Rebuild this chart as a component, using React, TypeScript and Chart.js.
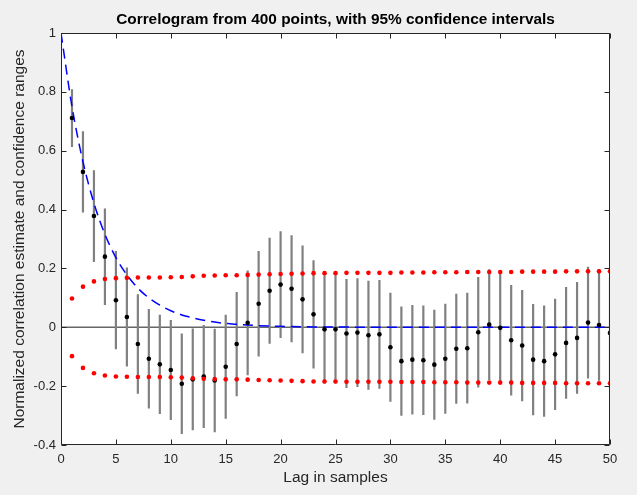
import React, { useEffect, useRef } from "react";
import { Chart, registerables } from "chart.js";

Chart.register(...registerables);

const FONT = '"Liberation Sans", Arial, Helvetica, sans-serif';

const TITLE = "Correlogram from 400 points, with 95% confidence intervals";
const X_LABEL = "Lag in samples";
const Y_LABEL = "Normalized correlation estimate and confidence ranges";

const lags = [
  1, 2, 3, 4, 5, 6, 7, 8, 9, 10, 11, 12, 13, 14, 15, 16, 17, 18, 19, 20, 21, 22, 23, 24, 25,
  26, 27, 28, 29, 30, 31, 32, 33, 34, 35, 36, 37, 38, 39, 40, 41, 42, 43, 44, 45, 46, 47, 48, 49, 50,
];

const estimates = [
  0.711, 0.528, 0.378, 0.24, 0.092, 0.035, -0.057, -0.107, -0.126, -0.145, -0.192, -0.177, -0.167,
  -0.181, -0.134, -0.057, 0.015, 0.08, 0.124, 0.145, 0.131, 0.095, 0.044, -0.007, -0.007, -0.021,
  -0.018, -0.027, -0.024, -0.068, -0.115, -0.11, -0.112, -0.127, -0.107, -0.073, -0.071, -0.017,
  0.009, -0.002, -0.044, -0.062, -0.11, -0.115, -0.092, -0.053, -0.036, 0.016, 0.008, -0.019,
];

const bounds = [
  0.098, 0.138, 0.156, 0.164, 0.167, 0.168, 0.169, 0.169, 0.169, 0.17, 0.171, 0.173, 0.175, 0.176,
  0.177, 0.177, 0.178, 0.179, 0.18, 0.181, 0.182, 0.183, 0.184, 0.184, 0.184, 0.185, 0.185, 0.185,
  0.185, 0.185, 0.186, 0.186, 0.186, 0.187, 0.187, 0.187, 0.188, 0.188, 0.188, 0.188, 0.188, 0.189,
  0.189, 0.189, 0.189, 0.19, 0.19, 0.19, 0.19, 0.19,
];

const theoryLags = [
  0, 1, 2, 3, 4, 5, 6, 7, 8, 9, 10, 11, 12, 13, 14, 15, 16, 17, 18, 19, 20, 21, 22, 23, 24, 25,
  26, 27, 28, 29, 30, 31, 32, 33, 34, 35, 36, 37, 38, 39, 40, 41, 42, 43, 44, 45, 46, 47, 48, 49, 50,
];

const theory = [
  1, 0.75, 0.5625, 0.422, 0.316, 0.237, 0.178, 0.133, 0.1, 0.075, 0.056, 0.042, 0.032, 0.024, 0.018,
  0.013, 0.01, 0.0075, 0.0056, 0.0042, 0.0032, 0.0024, 0.0018, 0.0013, 0.001, 0.0008, 0.0006,
  0.0004, 0.0003, 0.0002, 0.0002, 0.0001, 0.0001, 0.0001, 0, 0, 0, 0, 0, 0, 0, 0, 0, 0, 0, 0, 0, 0,
  0, 0, 0,
];

const xTicks = [0, 5, 10, 15, 20, 25, 30, 35, 40, 45, 50];
const yTicks = [-0.4, -0.2, 0, 0.2, 0.4, 0.6, 0.8, 1];

const fmt = (v: number) => {
  const r = Math.round(v * 10) / 10;
  return String(r === 0 ? 0 : r);
};

const frame = {
  id: "matlabFrame",
  beforeDraw(chart: any) {
    const { ctx, chartArea: a } = chart;
    ctx.save();
    ctx.fillStyle = "#f0f0f0";
    ctx.fillRect(0, 0, chart.width, chart.height);
    ctx.fillStyle = "#ffffff";
    ctx.fillRect(a.left, a.top, a.right - a.left, a.bottom - a.top);
    ctx.restore();
  },
  afterDatasetsDraw(chart: any) {
    const { ctx, chartArea: a, scales } = chart;
    const L = Math.round(a.left) + 0.5;
    const R = Math.round(a.right) - 0.5;
    const T = Math.round(a.top) + 0.5;
    const B = Math.round(a.bottom) - 0.5;
    ctx.save();
    ctx.strokeStyle = "#262626";
    ctx.lineWidth = 1;
    ctx.beginPath();
    ctx.rect(L, T, R - L, B - T);
    for (const v of xTicks) {
      const px = Math.round(scales.x.getPixelForValue(v)) + 0.5;
      ctx.moveTo(px, B);
      ctx.lineTo(px, B - 5);
      ctx.moveTo(px, T);
      ctx.lineTo(px, T + 5);
    }
    for (const v of yTicks) {
      const py = Math.round(scales.y.getPixelForValue(v)) + 0.5;
      ctx.moveTo(L, py);
      ctx.lineTo(L + 5, py);
      ctx.moveTo(R, py);
      ctx.lineTo(R - 5, py);
    }
    ctx.stroke();
    ctx.fillStyle = "#000000";
    ctx.font = `bold 15.4px ${FONT}`;
    ctx.textAlign = "center";
    ctx.textBaseline = "middle";
    ctx.fillText(TITLE, (a.left + a.right) / 2, 20);
    ctx.restore();
  },
};

export default function App() {
  const ref = useRef<HTMLCanvasElement | null>(null);

  useEffect(() => {
    document.body.style.margin = "0";
    const canvas = ref.current;
    if (!canvas) return;

    const upper = lags.map((k, i) => ({ x: k, y: bounds[i] }));
    const lower = lags.map((k, i) => ({ x: k, y: -bounds[i] }));
    const est = lags.map((k, i) => ({ x: k, y: estimates[i] }));
    const bars: any[] = [];
    lags.forEach((k, i) => {
      bars.push({ x: k, y: estimates[i] - bounds[i] });
      bars.push({ x: k, y: estimates[i] + bounds[i] });
      bars.push({ x: k, y: null });
    });
    const th = theoryLags.map((k, i) => ({ x: k, y: theory[i] }));
    const zero = [
      { x: 0, y: 0 },
      { x: 50, y: 0 },
    ];

    const chart = new Chart(canvas, {
      type: "scatter",
      data: {
        datasets: [
          {
            data: upper,
            showLine: false,
            pointRadius: 2.3,
            pointBorderWidth: 0,
            pointBackgroundColor: "#ff0000",
            borderColor: "#ff0000",
          },
          {
            data: lower,
            showLine: false,
            pointRadius: 2.3,
            pointBorderWidth: 0,
            pointBackgroundColor: "#ff0000",
            borderColor: "#ff0000",
          },
          {
            data: est,
            showLine: false,
            pointRadius: 2.3,
            pointBorderWidth: 0,
            pointBackgroundColor: "#000000",
            borderColor: "#000000",
          },
          {
            data: th,
            showLine: true,
            pointRadius: 0,
            borderColor: "#0000ff",
            borderWidth: 1.5,
            borderDash: [10, 6],
            cubicInterpolationMode: "monotone",
          },
          {
            data: bars,
            showLine: true,
            spanGaps: false,
            pointRadius: 0,
            borderColor: "#808080",
            borderWidth: 2.2,
          },
          {
            data: zero,
            showLine: true,
            pointRadius: 0,
            borderColor: "#666666",
            borderWidth: 1.5,
          },
        ] as any,
      },
      options: {
        animation: false,
        responsive: false,
        devicePixelRatio: 1,
        layout: { padding: { left: 0, right: 27, top: 33, bottom: 0 } },
        plugins: {
          legend: { display: false },
          tooltip: { enabled: false },
          title: { display: false },
        },
        scales: {
          x: {
            type: "linear",
            min: 0,
            max: 50,
            grid: { display: false, drawTicks: false },
            border: { display: false },
            ticks: {
              stepSize: 5,
              padding: 7,
              color: "#262626",
              font: { family: FONT, size: 13 },
              maxRotation: 0,
            },
            title: {
              display: true,
              text: X_LABEL,
              color: "#262626",
              font: { family: FONT, size: 15.5 },
              padding: { top: 0, bottom: 8.4 },
            },
            afterFit(s: any) {
              s.height = 50;
            },
          },
          y: {
            type: "linear",
            min: -0.4,
            max: 1,
            grid: { display: false, drawTicks: false },
            border: { display: false },
            ticks: {
              stepSize: 0.2,
              padding: 5,
              color: "#262626",
              font: { family: FONT, size: 13 },
              callback: (v: any) => fmt(Number(v)),
            },
            title: {
              display: true,
              text: Y_LABEL,
              color: "#262626",
              font: { family: FONT, size: 15.5 },
              padding: { top: 10.2, bottom: 0 },
            },
            afterFit(s: any) {
              s.width = 61;
            },
          },
        },
      } as any,
      plugins: [frame],
    });

    return () => chart.destroy();
  }, []);

  return (
    <div style={{ width: 637, height: 495, background: "#f0f0f0" }}>
      <canvas ref={ref} width={637} height={495} style={{ display: "block" }} />
    </div>
  );
}
